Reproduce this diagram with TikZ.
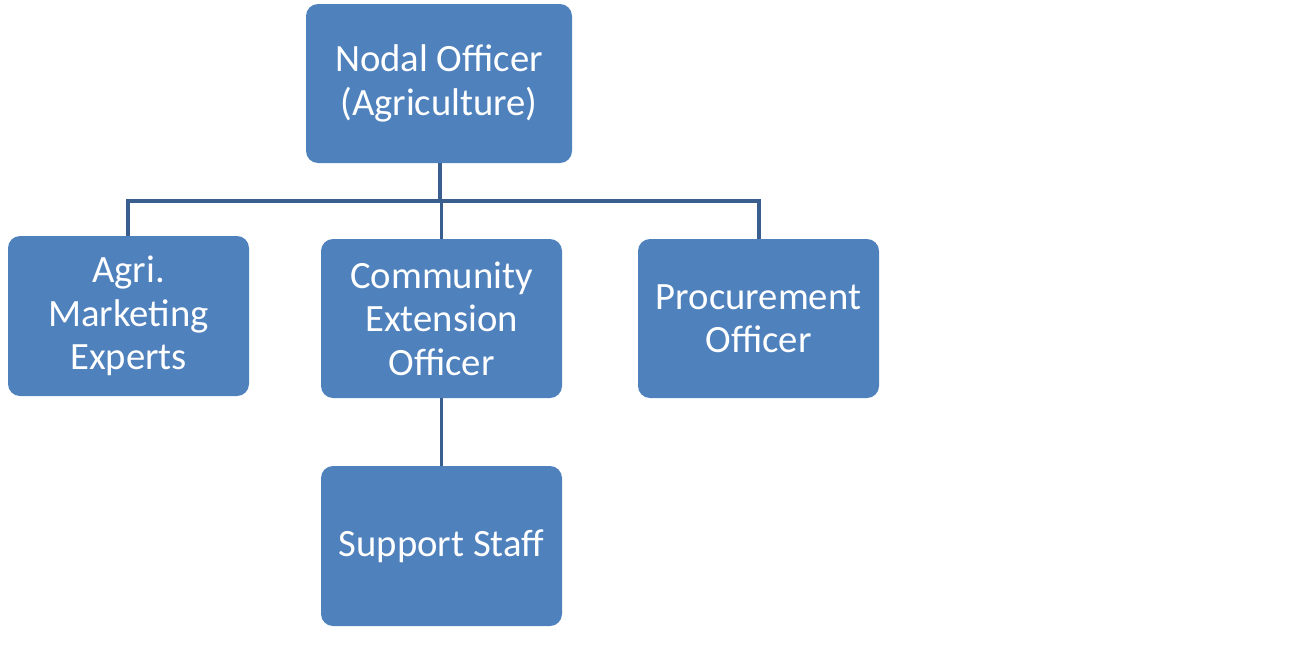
\documentclass[tikz,border=0pt]{standalone}
\usepackage{fontspec}
\setmainfont{Carlito}
\definecolor{boxfill}{RGB}{79,129,189}
\definecolor{linecol}{RGB}{58,95,143}
\begin{document}
\begin{tikzpicture}[x=0.75pt,y=-0.75pt,
  orgbox/.style={fill=boxfill, rounded corners=9pt, text=white, align=center,
    font=\fontsize{29}{32.5}\selectfont, inner sep=0pt},
  conn/.style={draw=linecol, line width=2.3pt}]
\useasboundingbox (0,0) rectangle (1304,661);
\node[orgbox, minimum width=266*0.75pt, minimum height=159*0.75pt] (nodal) at (439,83.5) {Nodal Officer\\(Agriculture)};
\node[orgbox, minimum width=241*0.75pt, minimum height=160*0.75pt] (agri) at (128.5,316) {Agri.\\Marketing\\Experts};
\node[orgbox, minimum width=241*0.75pt, minimum height=159*0.75pt] (comm) at (441.5,318.5) {Community\\Extension\\Officer};
\node[orgbox, minimum width=241*0.75pt, minimum height=159*0.75pt] (proc) at (758.5,318.5) {Procurement\\Officer};
\node[orgbox, minimum width=241*0.75pt, minimum height=160*0.75pt] (supp) at (441.5,546) {Support Staff};
\coordinate (bus) at (440,201);
\draw[conn] (nodal.south -| bus) -- (bus);
\draw[conn] (agri.north -| 128,0) |- (bus) -| (proc.north -| 759,0);
\draw[conn] (bus -| comm.north) -- (comm.north);
\draw[conn] (comm.south) -- (supp.north);
\end{tikzpicture}
\end{document}
